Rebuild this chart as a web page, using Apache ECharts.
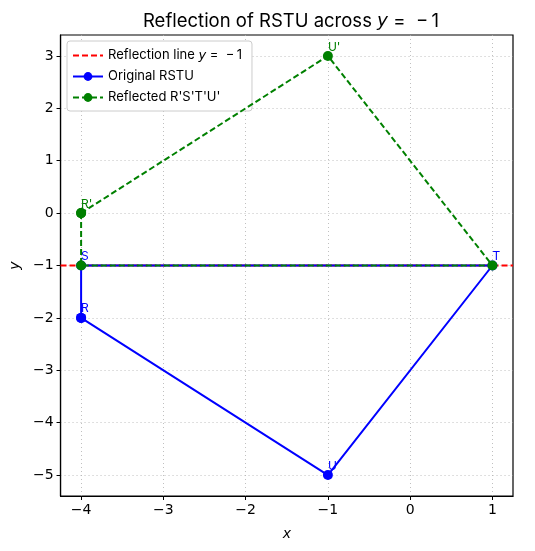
<!DOCTYPE html>
<html><head><meta charset="utf-8">
<script src="https://cdn.jsdelivr.net/npm/echarts@6/dist/echarts.min.js"></script>
<style>html,body{margin:0;padding:0;background:#fff}#c{width:535px;height:551px}</style>
</head><body><div id="c"></div>
<script>
const origNames = ['R','S','T','U'];
const origX = [-4, -4, 1, -1];
const origY = [-2, -1, -1, -5];
const reflNames = ["R'", "S'", "T'", "U'"];
const reflX = [-4, -4, 1, -1];
const reflY = [0, -1, -1, 3];
const reflLabelShown = [true, false, false, true];
const lineY = -1;
const xTicks = [-4, -3, -2, -1, 0, 1];
const yTicks = [-5, -4, -3, -2, -1, 0, 1, 2, 3];
const xRange = [-4.25, 1.25];
const yRange = [-5.4, 3.4];

function closed(xs, ys, names, shown) {
  const d = xs.map((x, i) => ({ value: [x, ys[i]], name: names[i], label: { show: shown ? shown[i] : true } }));
  d.push({ value: [xs[0], ys[0]], name: '', label: { show: false } });
  return d;
}
const chart = echarts.init(document.getElementById('c'), null, { renderer: 'canvas' });
const tickFont = 'DejaVu Sans';
const uiFont = 'Inter';
const dashIcon = 'path://M0,0h6v2h-6z M9,0h6v2h-6z M18,0h6v2h-6z M27,0h3v2h-3z';
chart.setOption({
  animation: false,
  backgroundColor: '#fff',
  title: {
    text: 'Reflection of RSTU across {i|y} =  \u2212\u20091',
    left: 286, textAlign: 'center', top: 7,
    textStyle: { fontFamily: uiFont, fontSize: 18.5, fontWeight: 'normal', color: '#000',
      rich: { i: { fontFamily: 'DejaVu Sans', fontStyle: 'italic', fontSize: 18.5 } } }
  },
  legend: {
    left: 67, top: 41, orient: 'vertical', itemGap: 8, itemWidth: 30, itemHeight: 11,
    backgroundColor: '#fff', borderColor: '#ccc', borderWidth: 1, borderRadius: 3, padding: [8, 10, 7, 5],
    textStyle: { fontFamily: uiFont, fontSize: 13, color: '#000',
      rich: { i: { fontFamily: 'DejaVu Sans', fontStyle: 'italic', fontSize: 13 } } },
    data: [
      { name: 'Reflection line y = −1', icon: dashIcon, itemStyle: { color: '#ff0000' } },
      'Original RSTU', "Reflected R'S'T'U'"
    ],
    formatter: n => n === 'Reflection line y = −1' ? 'Reflection line {i|y} =  \u2212\u20091' : n
  },
  grid: { left: 59, right: 22, top: 35, bottom: 55, show: true, borderColor: '#000', borderWidth: 1.2, backgroundColor: 'transparent' },
  xAxis: {
    type: 'value', min: xRange[0], max: xRange[1],
    name: 'x', nameLocation: 'middle', nameGap: 31,
    nameTextStyle: { fontFamily: 'DejaVu Sans', fontStyle: 'italic', fontSize: 14, color: '#000' },
    axisLine: { show: true, onZero: false, lineStyle: { color: '#000', width: 1.2 } },
    axisTick: { show: true, customValues: xTicks, length: 4, lineStyle: { color: '#000' } },
    axisLabel: { customValues: xTicks, fontFamily: tickFont, fontSize: 14, color: '#000', margin: 7,
      formatter: v => (v < 0 ? '−' + Math.abs(v) : '' + v) },
    splitLine: { show: true, lineStyle: { color: '#b0b0b0', type: [1, 3], width: 0.8 } }
  },
  yAxis: {
    type: 'value', min: yRange[0], max: yRange[1],
    name: 'y', nameLocation: 'middle', nameGap: 38,
    nameTextStyle: { fontFamily: 'DejaVu Sans', fontStyle: 'italic', fontSize: 14, color: '#000' },
    axisLine: { show: true, onZero: false, lineStyle: { color: '#000', width: 1.2 } },
    axisTick: { show: true, customValues: yTicks, length: 4, lineStyle: { color: '#000' } },
    axisLabel: { customValues: yTicks, fontFamily: tickFont, fontSize: 14, color: '#000', margin: 7,
      formatter: v => (v < 0 ? '−' + Math.abs(v) : '' + v) },
    splitLine: { show: true, lineStyle: { color: '#b0b0b0', type: [1, 3], width: 0.8 } }
  },
  series: [
    {
      name: 'Reflection line y = −1', type: 'line', z: 2,
      data: [[xRange[0], lineY], [xRange[1], lineY]],
      symbol: 'none', showSymbol: false,
      lineStyle: { color: '#ff0000', type: [6, 3], width: 2 }, itemStyle: { color: '#ff0000' }
    },
    {
      name: 'Original RSTU', type: 'line', z: 3,
      data: closed(origX, origY, origNames),
      symbol: 'circle', symbolSize: 10,
      lineStyle: { color: '#0000ff', width: 2 }, itemStyle: { color: '#0000ff' },
      label: { show: true, formatter: p => p.name, position: [5, -10], color: '#0000ff', fontFamily: uiFont, fontSize: 12 }
    },
    {
      name: "Reflected R'S'T'U'", type: 'line', z: 4,
      data: closed(reflX, reflY, reflNames, reflLabelShown),
      symbol: 'circle', symbolSize: 10,
      lineStyle: { color: '#008000', width: 2, type: [6, 3] }, itemStyle: { color: '#008000' },
      label: { show: true, formatter: p => p.name, position: [5, -10], color: '#008000', fontFamily: uiFont, fontSize: 12 }
    }
  ]
});
</script></body></html>
